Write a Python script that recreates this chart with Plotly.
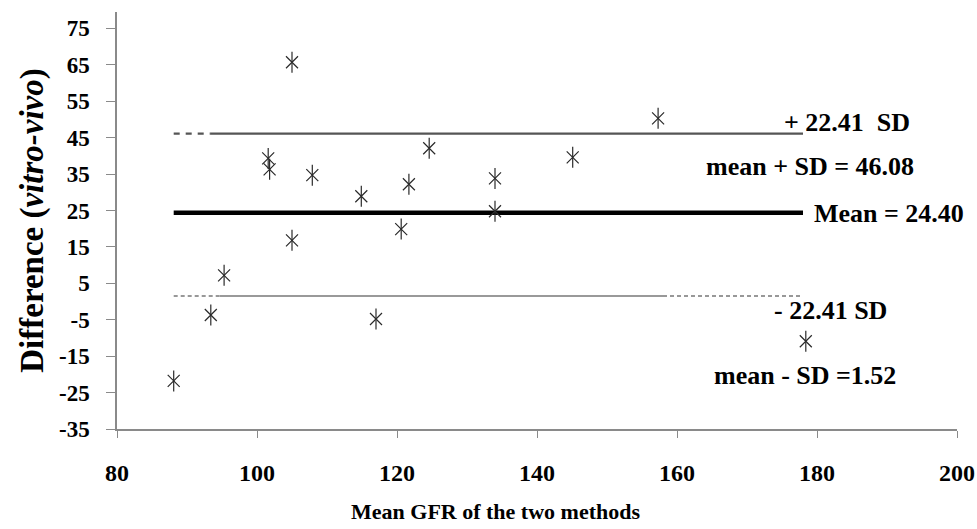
import plotly.graph_objects as go

# ---- data ----
mean_gfr = [88.1, 93.4, 95.3, 101.6, 101.8, 105.0, 105.0, 107.9, 114.9, 117.0,
            120.6, 121.7, 124.6, 134.0, 134.0, 145.1, 157.3, 178.4]
difference = [-21.8, -3.7, 7.2, 39.3, 36.3, 65.7, 16.8, 34.7, 28.9, -4.8,
              19.9, 32.2, 42.1, 33.8, 24.8, 39.6, 50.3, -10.9]

mean_diff = 24.40
mean_plus_sd = 46.08
mean_minus_sd = 1.52
line_x_start = 88.1
line_x_end = 178.0

x_ticks = [80, 100, 120, 140, 160, 180, 200]
y_ticks = [-35, -25, -15, -5, 5, 15, 25, 35, 45, 55, 65, 75]
y_tick_labels = ["-35", "-25", "-15", "-5", "5", "15", "25", "35", "45", "55", "65", "75"]

FONT = "Liberation Serif"
PT = "#2a2a2a"

fig = go.Figure()

# upper limit line (short dashed start, then solid)
up_split = 93.3
fig.add_trace(go.Scatter(x=[line_x_start, up_split], y=[mean_plus_sd, mean_plus_sd],
                         mode="lines", line=dict(color="#555555", width=2.2, dash="6px,6px"),
                         hoverinfo="skip", showlegend=False))
fig.add_trace(go.Scatter(x=[up_split, line_x_end], y=[mean_plus_sd, mean_plus_sd],
                         mode="lines", line=dict(color="#555555", width=2.2),
                         hoverinfo="skip", showlegend=False))

# lower limit line (dashed / solid / dashed)
lo_a, lo_b = 94.7, 158.0
fig.add_trace(go.Scatter(x=[line_x_start, lo_a], y=[mean_minus_sd, mean_minus_sd],
                         mode="lines", line=dict(color="#777777", width=1.3, dash="4px,3px"),
                         hoverinfo="skip", showlegend=False))
fig.add_trace(go.Scatter(x=[lo_a, lo_b], y=[mean_minus_sd, mean_minus_sd],
                         mode="lines", line=dict(color="#777777", width=1.3),
                         hoverinfo="skip", showlegend=False))
fig.add_trace(go.Scatter(x=[lo_b, line_x_end], y=[mean_minus_sd, mean_minus_sd],
                         mode="lines", line=dict(color="#777777", width=1.3, dash="4px,3px"),
                         hoverinfo="skip", showlegend=False))

# mean line
fig.add_trace(go.Scatter(x=[line_x_start, line_x_end], y=[mean_diff, mean_diff],
                         mode="lines", line=dict(color="black", width=4.5),
                         hoverinfo="skip", showlegend=False))

# asterisk markers: X + vertical stroke
fig.add_trace(go.Scatter(x=mean_gfr, y=difference, mode="markers",
                         marker=dict(symbol="x-thin-open", size=12, color=PT,
                                     line=dict(color=PT, width=1.2)),
                         showlegend=False))
fig.add_trace(go.Scatter(x=mean_gfr, y=difference, mode="markers",
                         marker=dict(symbol="line-ns-open", size=15, color=PT,
                                     line=dict(color=PT, width=1.2)),
                         showlegend=False, hoverinfo="skip"))

ann_font = dict(family=FONT, size=26, color="black", weight="bold")
annots = [
    ("+ 22.41  SD", 175.0, 49.2),
    ("mean + SD = 46.08", 163.9, 37.1),
    ("Mean = 24.40", 179.3, 24.2),
    ("- 22.41 SD", 173.6, -2.4),
    ("mean - SD =1.52", 165.0, -20.2),
]
for txt, ax_, ay_ in annots:
    fig.add_annotation(x=ax_, y=ay_, text=txt, showarrow=False, xanchor="left",
                       yanchor="middle", font=ann_font)

# x axis title (placed left of centre as in the reference)
fig.add_annotation(x=0.451, y=-0.197, xref="paper", yref="paper", xanchor="center",
                   yanchor="middle", showarrow=False, text="Mean GFR of the two methods",
                   font=dict(family=FONT, size=22, color="black", weight="bold"))

axis_common = dict(showgrid=False, zeroline=False, showline=True, linecolor="#8a8a8a",
                   linewidth=1.5, ticks="outside", tickcolor="#8a8a8a", tickwidth=1.2)

fig.update_xaxes(range=[80, 200], tickvals=x_ticks, ticklen=7, ticklabelstandoff=14,
                 tickfont=dict(family=FONT, size=24, color="black", weight="bold"),
                 **axis_common)
fig.update_yaxes(range=[-35, 79.5], tickvals=y_ticks, ticktext=y_tick_labels,
                 ticklen=9, ticklabelstandoff=12,
                 tickfont=dict(family=FONT, size=23, color="black", weight="bold"),
                 title=dict(text="Difference (<i>vitro-vivo</i>)", standoff=5,
                            font=dict(family=FONT, size=33, color="black", weight="bold")),
                 **axis_common)

fig.update_layout(width=977, height=529, plot_bgcolor="white", paper_bgcolor="white",
                  margin=dict(l=117, r=20, t=12, b=100, autoexpand=False))

# remove the default 8px page margin so the figure fills the 977x529 window exactly
fig.write_html("out.html", config={"displayModeBar": False},
               post_script="document.body.style.margin='0';")
